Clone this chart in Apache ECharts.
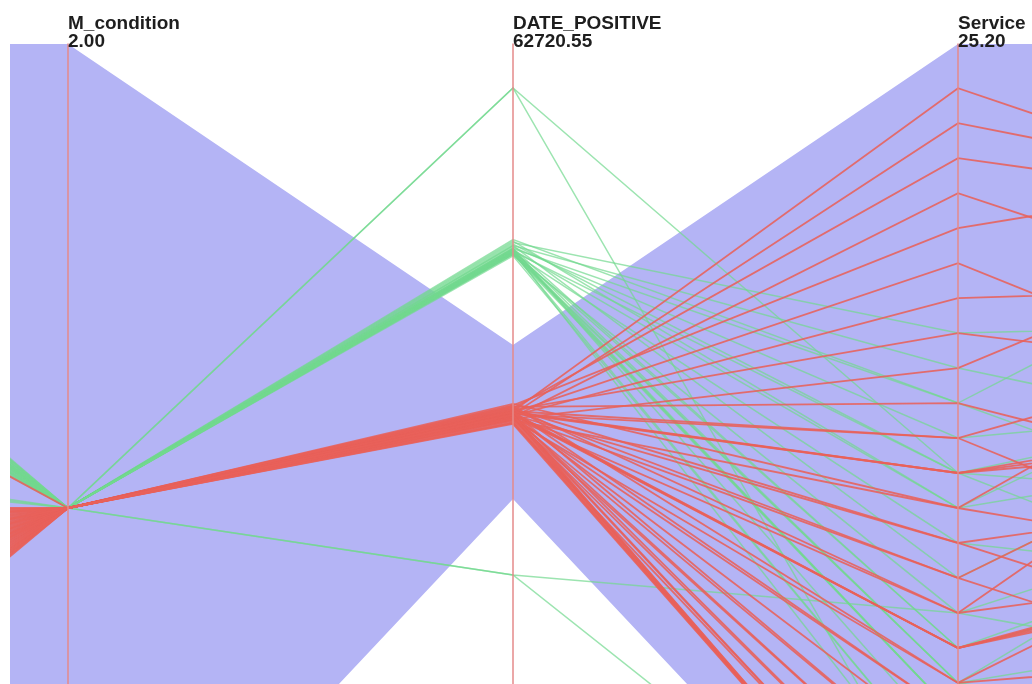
<!DOCTYPE html>
<html>
<head>
<meta charset="utf-8">
<script src="https://cdn.jsdelivr.net/npm/echarts@6/dist/echarts.min.js"></script>
<style>
  html, body { margin: 0; padding: 0; background: #ffffff; }
  #chart { width: 1032px; height: 684px; }
</style>
</head>
<body>
<div id="chart"></div>
<script>
// Parallel-coordinates view: five axes, the outer two sit just outside the window.
const dimensions = ['PREV', 'M_condition', 'DATE_POSITIVE', 'Service', 'NEXT'];
const axisShown = [false, true, true, true, false];
const axisMin = [0, 0, 0, 0, 0];
const axisMax = [100, 2, 62720.55, 25.2, 100];

// Brushed range on every axis (the shaded band)
const brushLow = [0, 0, 31969, 0, 0];
const brushHigh = [100, 2, 42377, 25.2, 100];

// Records: [PREV, M_condition, DATE_POSITIVE, Service, NEXT]
const greenRows = [
  [84, 1, 49300, 17.35, 70],
  [88, 1, 49100, 16.40, 55],
  [79, 1, 49500, 15.45, 86],
  [90, 1, 48900, 15.45, 44],
  [82, 1, 49000, 14.50, 62],
  [77, 1, 48700, 13.55, 50],
  [86, 1, 49200, 13.55, 35],
  [91, 1, 48800, 12.60, 73],
  [80, 1, 49400, 12.60, 58],
  [85, 1, 48600, 11.65, 41],
  [78, 1, 49100, 10.70, 66],
  [89, 1, 48500, 9.75, 30],
  [83, 1, 48900, 8.80, 52],
  [87, 1, 48700, 8.80, 47],
  [81, 1, 48800, 7.85, 25],
  [76, 1, 48600, 7.85, 39],
  [88, 1, 48500, 7.85, 60],
  [84, 1, 48700, 6.90, 20],
  [79, 1, 48600, 6.90, 33],
  [86, 1, 48800, 6.90, 28],
  [82, 1, 48500, 6.90, 45],
  [57, 1, 48900, 5.95, 18],
  [55, 1, 48600, 5.00, 23],
  [90, 1, 48400, 5.00, 15],
  [83, 1, 48700, 4.05, 36],
  [85, 1, 59750, 13.55, 64],
  [80, 1, 59750, 3.10, 21],
  [13, 1, 26830, 9.75, 54],
  [56, 1, 26830, 1.20, 17]
];

const redRows = [
  [44, 1, 37900, 24.00, 79],
  [31, 1, 37700, 23.05, 82],
  [47, 1, 38100, 22.10, 81],
  [26, 1, 37500, 21.15, 68],
  [39, 1, 38300, 20.20, 88],
  [22, 1, 37800, 19.25, 57],
  [49, 1, 37600, 18.30, 74],
  [17, 1, 38000, 17.35, 63],
  [36, 1, 37400, 16.40, 85],
  [28, 1, 38200, 15.45, 49],
  [41, 1, 37700, 14.50, 71],
  [13, 1, 37900, 14.50, 38],
  [33, 1, 37800, 13.55, 60],
  [24, 1, 37850, 13.55, 58],
  [46, 1, 37750, 13.55, 62],
  [19, 1, 38400, 12.60, 77],
  [37, 1, 37300, 12.60, 42],
  [29, 1, 37650, 11.65, 53],
  [50, 1, 38050, 11.65, 31],
  [15, 1, 37550, 10.70, 66],
  [42, 1, 37950, 10.70, 27],
  [21, 1, 37450, 9.75, 45],
  [35, 1, 38150, 9.75, 72],
  [27, 1, 37700, 8.80, 46],
  [30, 1, 37750, 8.80, 47],
  [38, 1, 37650, 8.80, 45],
  [11, 1, 37800, 8.80, 48],
  [45, 1, 37350, 7.85, 35],
  [23, 1, 38250, 7.85, 55],
  [34, 1, 37500, 6.90, 24],
  [16, 1, 37900, 6.90, 40],
  [40, 1, 37600, 5.95, 33],
  [25, 1, 37450, 5.00, 19],
  [48, 1, 37850, 5.00, 29],
  [12, 1, 37550, 4.05, 22],
  [32, 1, 37350, 4.05, 37],
  [43, 1, 37700, 3.10, 15],
  [20, 1, 37400, 3.10, 26],
  [76, 1, 37600, 2.15, 12],
  [10, 1, 37100, 2.15, 18],
  [37, 1, 37500, 2.15, 9],
  [18, 1, 37250, 1.20, 14],
  [26, 1, 37500, 1.20, 11],
  [33, 1, 37150, 1.20, 16],
  [41, 1, 37400, 1.20, 8],
  [14, 1, 37600, 1.20, 13],
  [29, 1, 37050, 1.20, 10],
  [47, 1, 37650, 1.20, 12]
];

// Plot frame shared by the parallel axes and the shading layer beneath them
const FRAME = { left: -377, right: -371, top: 44, bottom: -288 };
const lastDim = dimensions.length - 1;
const toUnit = (v, i) => (v - axisMin[i]) / (axisMax[i] - axisMin[i]);

const titleFont = {
  color: '#1e1e1e',
  fontFamily: '"Liberation Sans", Arial, sans-serif',
  fontWeight: 'bold',
  fontSize: 19,
  lineHeight: 18,
  align: 'left',
  verticalAlign: 'bottom'
};

const noLabel = { show: false, formatter: () => '' };

const chart = echarts.init(document.getElementById('chart'), null, { renderer: 'canvas' });

chart.setOption({
  backgroundColor: '#ffffff',
  animation: false,
  parallel: Object.assign({
    parallelAxisDefault: {
      axisLabel: noLabel,
      axisTick: { show: false },
      splitLine: { show: false }
    }
  }, FRAME),
  parallelAxis: dimensions.map((name, i) => ({
    dim: i,
    name: axisShown[i] ? name + '\n' + axisMax[i].toFixed(2) : '',
    min: axisMin[i],
    max: axisMax[i],
    nameLocation: 'end',
    nameGap: -7,
    nameMoveOverlap: false,
    nameTextStyle: titleFont,
    axisLine: { show: axisShown[i], lineStyle: { color: '#e48a8a', width: 1.5 } },
    axisTick: { show: false },
    axisLabel: noLabel
  })),
  grid: Object.assign({ outerBoundsMode: 'none', containLabel: false }, FRAME),
  xAxis: { type: 'value', min: 0, max: lastDim, show: false },
  yAxis: { type: 'value', min: 0, max: 1, show: false },
  series: [
    {
      type: 'custom',
      coordinateSystem: 'cartesian2d',
      silent: true,
      clip: false,
      z: -1,
      data: [[0, 0]],
      renderItem: function (params, api) {
        const pts = [];
        for (let i = 0; i <= lastDim; i++) pts.push(api.coord([i, toUnit(brushHigh[i], i)]));
        for (let i = lastDim; i >= 0; i--) pts.push(api.coord([i, toUnit(brushLow[i], i)]));
        return { type: 'polygon', shape: { points: pts }, style: { fill: '#b4b4f5' } };
      }
    },
    {
      type: 'parallel',
      silent: true,
      z: 3,
      data: greenRows,
      lineStyle: { color: '#72d98f', width: 1.5, opacity: 0.7 }
    },
    {
      type: 'parallel',
      silent: true,
      z: 4,
      data: redRows,
      lineStyle: { color: '#e8615a', width: 1.8, opacity: 0.88 }
    }
  ],
  graphic: [
    { type: 'rect', left: 0, top: 0, z: 100, shape: { width: 10, height: 684 }, style: { fill: '#ffffff' } }
  ]
});
</script>
</body>
</html>
